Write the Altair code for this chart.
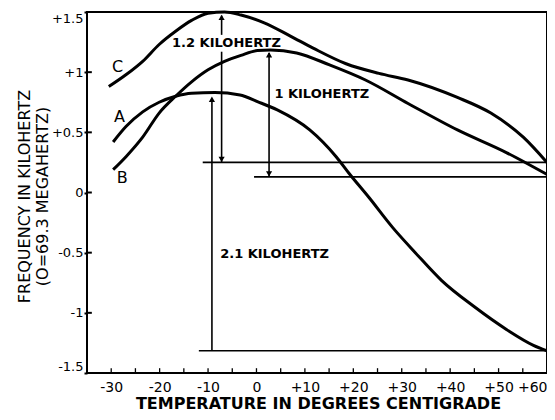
import altair as alt
import pandas as pd

# ---- curve data (temperature in deg C, frequency offset in kHz) ----
a_temp = [-29.6, -26.9, -23.5, -20.1, -16.7, -13.4, -8.6, -3.4, 0.2, 4.3, 11.0, 16.5, 19.1,
          23.2, 28.1, 32.8, 38.2, 45.0, 51.7, 57.2, 60.0]
a_freq = [0.42, 0.55, 0.67, 0.75, 0.80, 0.825, 0.83, 0.81, 0.755, 0.686, 0.52, 0.295, 0.16,
          -0.04, -0.29, -0.50, -0.73, -0.95, -1.14, -1.27, -1.315]

b_temp = [-29.6, -26.9, -23.5, -20.1, -16.7, -13.4, -10.0, -6.6, -3.2, 0.2, 2.9, 8.3, 15.1,
          22.5, 31.3, 41.5, 51.7, 55.7, 60.0]
b_freq = [0.19, 0.30, 0.46, 0.66, 0.80, 0.92, 1.02, 1.09, 1.14, 1.18, 1.185, 1.16, 1.06,
          0.935, 0.74, 0.52, 0.33, 0.245, 0.15]

c_temp = [-30.5, -26.9, -23.5, -20.1, -16.7, -13.4, -10.0, -6.6, -3.2, 1.6, 7.0, 11.7, 18.5,
          25.3, 31.3, 41.5, 48.4, 55.1, 60.0]
c_freq = [0.88, 0.98, 1.09, 1.23, 1.34, 1.43, 1.49, 1.50, 1.475, 1.41, 1.30, 1.20, 1.07,
          0.99, 0.935, 0.79, 0.66, 0.46, 0.25]

# curve labels
curve_names = ["C", "A", "B"]
curve_label_temp = [-28.7, -28.3, -27.7]
curve_label_freq = [1.04, 0.63, 0.12]

# horizontal reference lines
ref_start = [-11.1, -0.5, -11.9]
ref_end = [60.0, 60.0, 60.0]
ref_level = [0.25, 0.13, -1.315]

# arrows (x position, segment from, segment to)
arrow_temp = [-9.2, -7.2, -7.2, 2.6]
arrow_from = [-1.315, 0.25, 1.31, 0.13]
arrow_to = [0.78, 1.17, 1.47, 1.16]
head_up_temp = [-9.2, -7.2, 2.6]
head_up_freq = [0.775, 1.455, 1.145]
head_down_temp = [-7.2, 2.6]
head_down_freq = [0.275, 0.155]

# annotation texts
note_text = ["1.2 KILOHERTZ", "1 KILOHERTZ", "2.1 KILOHERTZ"]
note_temp = [-6.2, 3.7, -7.5]
note_freq = [1.243, 0.82, -0.51]
note_align = ["center", "left", "left"]

# axes
x_tick_values = [-30, -20, -10, 0, 10, 20, 30, 40, 50, 60]
x_tick_labels = ["-30", "-20", "-10", "0", "+10", "+20", "+30", "+40", "+50", "+60"]
x_minor_values = [-30, -25, -20, -15, -10, -5, 0, 5, 10, 15, 20, 25, 30, 35, 40, 45, 50, 55]
y_tick_values = [-1.5, -1, -0.5, 0, 0.5, 1, 1.5]
y_tick_labels = ["-1.5", "-1", "-0.5", "0", "+0.5", "+1", "+1.5"]

FONT = "DejaVu Sans"
PLOT_W, PLOT_H = 460, 361


def label_expr(values, labels):
    expr = "''"
    for v, lab in reversed(list(zip(values, labels))):
        expr = f"abs(datum.value - ({v})) < 0.001 ? '{lab}' : ({expr})"
    return expr


curves = pd.concat([
    pd.DataFrame({"temp": a_temp, "freq": a_freq, "curve": "A"}),
    pd.DataFrame({"temp": b_temp, "freq": b_freq, "curve": "B"}),
    pd.DataFrame({"temp": c_temp, "freq": c_freq, "curve": "C"}),
])

xs = alt.Scale(domain=[-35, 60], nice=False, zero=False)
ys = alt.Scale(domain=[-1.5, 1.5], nice=False, zero=False)

x_axis = alt.Axis(
    values=x_tick_values,
    labelExpr=label_expr(x_tick_values, x_tick_labels),
    title="TEMPERATURE IN DEGREES CENTIGRADE",
    titleFont=FONT, titleFontSize=16, titleFontWeight="bold", titleColor="black",
    titleX=231, titleY=30, titleBaseline="middle", titleAnchor="middle",
    labelFont=FONT, labelFontSize=14, labelColor="black", labelPadding=7,
    labelFlush=True, ticks=False, tickSize=0, domain=False, grid=False,
)
y_axis = alt.Axis(
    values=y_tick_values,
    labelExpr=label_expr(y_tick_values, y_tick_labels),
    title=["FREQUENCY IN KILOHERTZ", "(O=69.3 MEGAHERTZ)"],
    titleFont=FONT, titleFontSize=16, titleFontWeight="normal", titleColor="black",
    titleX=-55, titleY=184, titleBaseline="bottom", titleAlign="center", titleLineHeight=18,
    titleAngle=270,
    labelFont=FONT, labelFontSize=13, labelColor="black", labelPadding=1, labelFlush=True,
    ticks=True, tickSize=3, tickWidth=2, tickColor="black", domain=False, grid=False,
)

lines = alt.Chart(curves).mark_line(color="black", strokeWidth=3, interpolate="monotone").encode(
    detail="curve:N",
)

refs = alt.Chart(pd.DataFrame({"temp": ref_start, "temp2": ref_end, "freq": ref_level})).mark_rule(
    color="black", strokeWidth=1.6
).encode(x2="temp2:Q")

arrows = alt.Chart(pd.DataFrame({"temp": arrow_temp, "freq": arrow_from, "freq2": arrow_to})).mark_rule(
    color="black", strokeWidth=1.6
).encode(y2="freq2:Q")

heads_up = alt.Chart(pd.DataFrame({"temp": head_up_temp, "freq": head_up_freq})).mark_point(
    shape="triangle-up", filled=True, color="black", size=38, opacity=1
)

heads_down = alt.Chart(pd.DataFrame({"temp": head_down_temp, "freq": head_down_freq})).mark_point(
    shape="triangle-down", filled=True, color="black", size=38, opacity=1
)

notes_df = pd.DataFrame({"temp": note_temp, "freq": note_freq, "text": note_text, "align": note_align})
notes_center = alt.Chart(notes_df[notes_df["align"] == "center"]).mark_text(
    font=FONT, fontSize=13, fontWeight="bold", color="black", align="center", baseline="middle"
).encode(text="text:N")
notes_left = alt.Chart(notes_df[notes_df["align"] == "left"]).mark_text(
    font=FONT, fontSize=13, fontWeight="bold", color="black", align="left", baseline="middle"
).encode(text="text:N")

curve_labels = alt.Chart(pd.DataFrame({"temp": curve_label_temp, "freq": curve_label_freq,
                                       "text": curve_names})).mark_text(
    font=FONT, fontSize=16, color="black", align="center", baseline="middle"
).encode(text="text:N")

x_minor = alt.Chart(pd.DataFrame({"temp": x_minor_values, "freq": -1.5, "freq2": -1.46})).mark_rule(
    color="black", strokeWidth=1.3
).encode(y2="freq2:Q")

y_inner = alt.Chart(pd.DataFrame({"temp": -35.0, "temp2": -34.0, "freq": y_tick_values})).mark_rule(
    color="black", strokeWidth=2
).encode(x2="temp2:Q")

chart = alt.layer(
    lines, refs, arrows, heads_up, heads_down, notes_center, notes_left, curve_labels, x_minor, y_inner
).encode(
    x=alt.X("temp:Q", scale=xs, axis=x_axis),
    y=alt.Y("freq:Q", scale=ys, axis=y_axis),
).properties(
    width=PLOT_W, height=PLOT_H,
    padding={"left": 79, "top": 4, "right": 0, "bottom": 42},
    autosize=alt.AutoSizeParams(type="none"),
    background="white",
).configure_view(stroke="black", strokeWidth=2)

chart.save("out.html", embed_options={"renderer": "svg", "actions": False})
